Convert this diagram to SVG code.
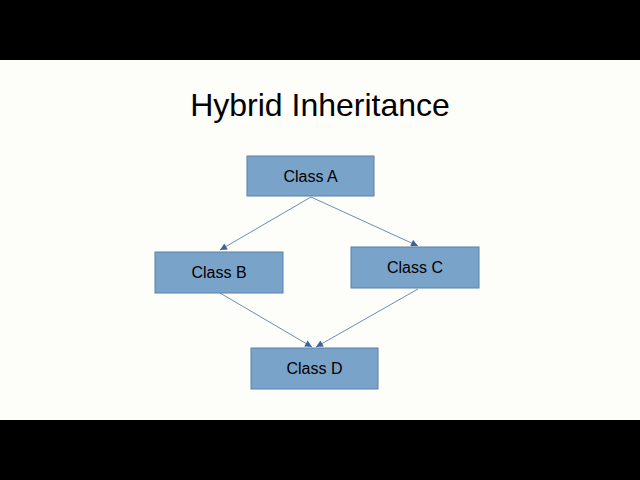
<svg xmlns="http://www.w3.org/2000/svg" width="640" height="480" viewBox="0 0 640 480">
<style>
.box{fill:#7aa3c9;stroke:#5b80aa;stroke-width:1}
.lbl{font-family:"Liberation Sans",Arial,sans-serif;font-size:16px;fill:#000;text-anchor:middle;dominant-baseline:central}
.con{stroke:#4a6fa0;stroke-width:0.8;fill:none;marker-end:url(#ah)}
</style>
<defs><marker id="ah" viewBox="0 0 10 10" refX="10" refY="5" markerWidth="9" markerHeight="7" markerUnits="userSpaceOnUse" orient="auto"><path d="M0,0L10,5L0,10z" fill="#3d6399"/></marker></defs>
<rect width="640" height="480" fill="#000"/>
<rect y="60" width="640" height="360" fill="#fdfdf9"/>
<text x="320" y="105" class="lbl" style="font-size:32px">Hybrid Inheritance</text>
<g id="connectors">
<line class="con" x1="311" y1="197" x2="220" y2="250"/>
<line class="con" x1="311" y1="197" x2="418" y2="246"/>
<line class="con" x1="220" y1="293" x2="312" y2="347"/>
<line class="con" x1="418" y1="289" x2="316" y2="347"/>
</g>
<g id="classA"><rect class="box" x="247" y="156" width="127" height="40"/><text class="lbl" x="310.5" y="176">Class A</text></g>
<g id="classB"><rect class="box" x="155" y="252" width="128" height="41"/><text class="lbl" x="219" y="272.5">Class B</text></g>
<g id="classC"><rect class="box" x="351" y="247" width="128" height="41"/><text class="lbl" x="415" y="267.5">Class C</text></g>
<g id="classD"><rect class="box" x="251" y="348" width="127" height="41"/><text class="lbl" x="314.5" y="368.5">Class D</text></g>
</svg>
